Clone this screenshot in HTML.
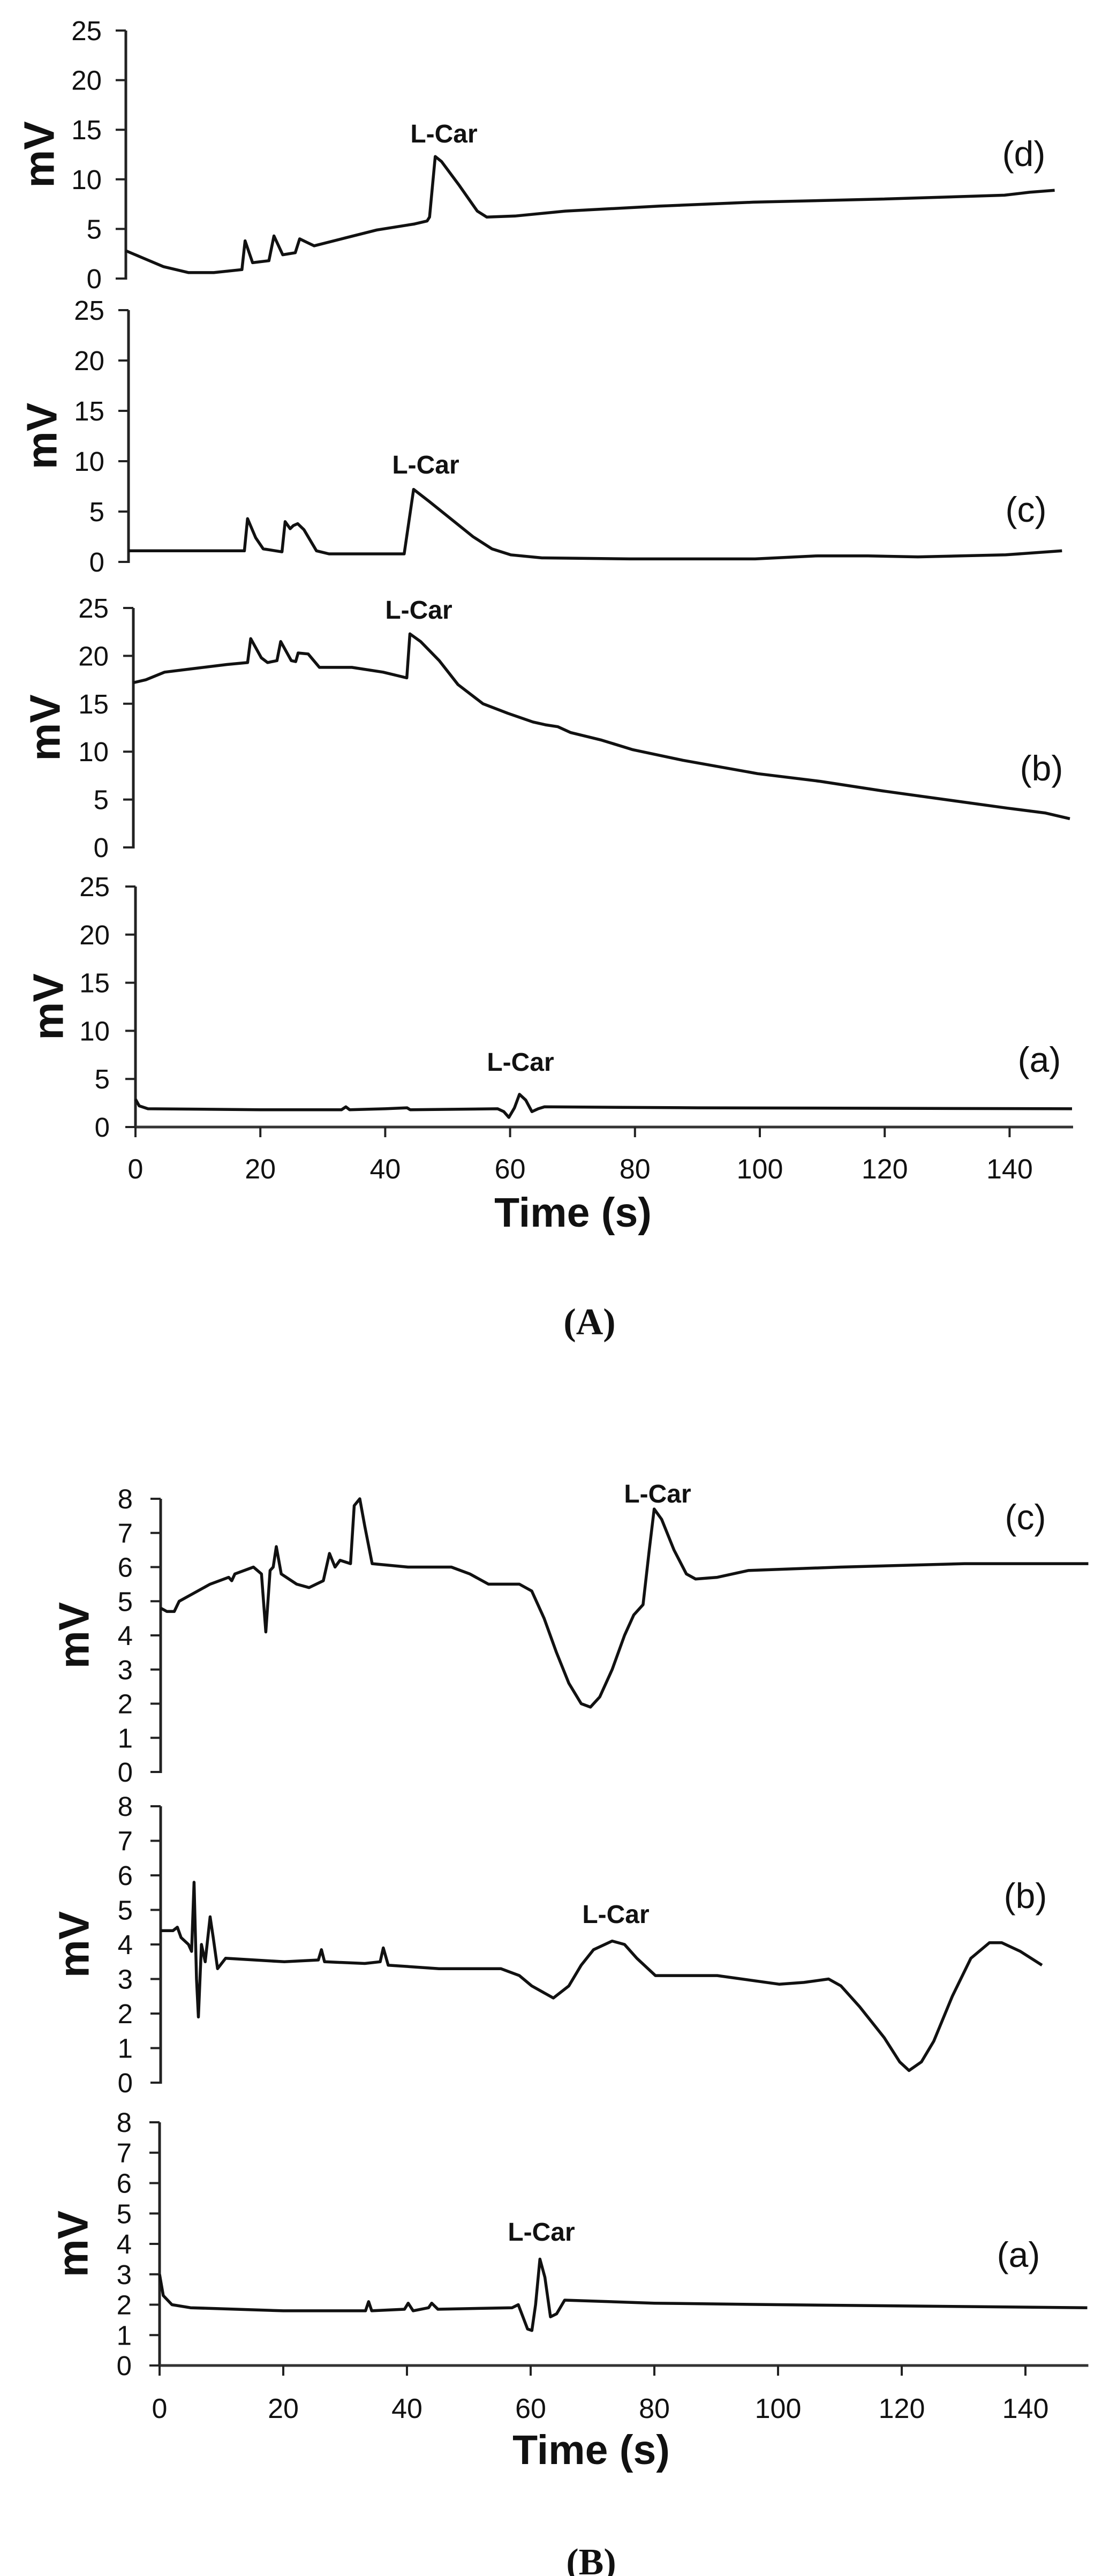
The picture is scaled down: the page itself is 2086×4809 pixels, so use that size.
<!DOCTYPE html>
<html><head><meta charset="utf-8"><style>
html,body{margin:0;padding:0;background:#fff;}
svg{display:block;}
text{font-family:"Liberation Sans",sans-serif;fill:#111;}
</style></head><body>
<svg id="s" width="2086" height="4809" viewBox="0 0 2086 4809" xmlns="http://www.w3.org/2000/svg">
<rect width="2086" height="4809" fill="#fff"/>
<g id="g"></g>
<g font-weight="bold" font-size="48" text-anchor="middle">
<text x="829" y="266">L-Car</text>
<text x="795" y="884">L-Car</text>
<text x="782" y="1155">L-Car</text>
<text x="972" y="1999">L-Car</text>
<text x="1228" y="2805">L-Car</text>
<text x="1150" y="3590">L-Car</text>
<text x="1011" y="4183">L-Car</text>
</g>
<g font-size="66" text-anchor="middle">
<text x="1912" y="310">(d)</text>
<text x="1916" y="974">(c)</text>
<text x="1945" y="1457">(b)</text>
<text x="1941" y="2001">(a)</text>
<text x="1915" y="2855">(c)</text>
<text x="1915" y="3562">(b)</text>
<text x="1902" y="4232">(a)</text>
</g>
<g font-weight="bold" font-size="77" text-anchor="middle">
<text x="1070" y="2290">Time (s)</text>
<text x="1104" y="4600">Time (s)</text>
</g>
<g font-weight="bold" font-size="70" text-anchor="middle">
<text x="1101" y="2491" style="font-family:'Liberation Serif',serif">(A)</text>
<text x="1104" y="4806" style="font-family:'Liberation Serif',serif">(B)</text>
</g>
</svg>
<script>
var g=document.getElementById('g');var NS='http://www.w3.org/2000/svg';
function el(t,a,txt){var e=document.createElementNS(NS,t);for(var k in a)e.setAttribute(k,a[k]);if(txt!==undefined)e.textContent=txt;g.appendChild(e);return e;}
function panel(ax,y0,ytop,ymax,step,labX,mvX,data,sx,xt){
  var sy=(y0-ytop)/ymax;
  el('line',{x1:ax,y1:ytop,x2:ax,y2:y0+2,stroke:'#222','stroke-width':5});
  for(var v=0;v<=ymax;v+=step){var y=y0-v*sy;
    el('line',{x1:ax-19,y1:y,x2:ax,y2:y,stroke:'#222','stroke-width':4});
    el('text',{x:labX,y:y+18,'font-size':51,'text-anchor':'end'},String(v));}
  var cy=(y0+ytop)/2;
  el('text',{x:mvX,y:cy,'font-size':80,'font-weight':'bold','text-anchor':'middle',transform:'rotate(-90 '+mvX+' '+cy+')','dominant-baseline':'central'},'mV');
  var pts=data.map(function(p){return (ax+p[0]*sx).toFixed(1)+','+(y0-p[1]*sy).toFixed(1)}).join(' ');
  el('polyline',{points:pts,fill:'none',stroke:'#111','stroke-width':5.5,'stroke-linejoin':'round'});
  if(xt){
    el('line',{x1:ax,y1:y0,x2:ax+150*sx+2,y2:y0,stroke:'#333','stroke-width':5});
    for(var t=0;t<=140;t+=20){var x=ax+t*sx;
      el('line',{x1:x,y1:y0,x2:x,y2:y0+19,stroke:'#222','stroke-width':4});
      el('text',{x:x,y:xt,'font-size':52,'text-anchor':'middle'},String(t));}
  }
}
var dA=[[0,2.8],[3,2],[6,1.2],[10,0.6],[14,0.6],[18.5,0.9],[19,3.8],[20.2,1.6],[22.8,1.8],[23.6,4.3],[25,2.4],[27,2.6],[27.7,4.0],[29,3.6],[30,3.3],[35,4.1],[40,4.9],[46,5.5],[48,5.8],[48.4,6.2],[49.3,12.3],[50.3,11.8],[53,9.5],[56,6.8],[57.5,6.2],[62,6.3],[70,6.8],[85,7.3],[100,7.7],[120,8.0],[140,8.4],[144,8.7],[148,8.9]];
var cA=[[0,1.1],[10,1.1],[18.5,1.1],[19,4.3],[20.3,2.4],[21.5,1.3],[24.5,1.0],[25,4.0],[25.8,3.3],[26.3,3.6],[27,3.8],[28,3.2],[30,1.1],[32,0.8],[44,0.8],[45.5,7.2],[48,6.0],[51,4.5],[55,2.5],[58,1.3],[61,0.7],[66,0.4],[80,0.3],[100,0.3],[110,0.6],[118,0.6],[126,0.5],[140,0.7],[149,1.1]];
var bA=[[0,17.2],[2,17.5],[5,18.3],[10,18.7],[15,19.1],[18.3,19.3],[18.8,21.8],[20.5,19.8],[21.5,19.3],[23,19.5],[23.6,21.5],[25.3,19.5],[26,19.4],[26.4,20.3],[28,20.2],[29.8,18.8],[35,18.8],[40,18.3],[43.8,17.7],[44.3,22.3],[46,21.5],[49,19.5],[52,17],[56,15],[60,14],[64,13.1],[66,12.8],[68,12.6],[70,12],[75,11.2],[80,10.2],[88,9.1],[100,7.7],[110,6.9],[120,5.9],[130,5.0],[140,4.1],[146,3.6],[150,3.0]];
var aA=[[0,2.9],[0.6,2.2],[2,1.9],[20,1.8],[33,1.8],[33.7,2.1],[34.3,1.8],[40,1.9],[43.5,2.0],[44,1.8],[58,1.9],[59,1.6],[59.8,1.0],[60.7,2.0],[61.5,3.4],[62.5,2.8],[63.5,1.6],[64.5,1.9],[65.5,2.1],[90,2.0],[150,1.9]];
panel(235,520,57,25,5,190,73,dA,11.72);
panel(240,1049,579,25,5,195,78,cA,11.7);
panel(249,1582,1135,25,5,203,84,bA,11.66);
panel(253,2104,1655,25,5,205,90,aA,11.66,2200);
var cB=[[0,4.8],[1,4.7],[2.2,4.7],[3,5.0],[5,5.2],[8,5.5],[11,5.7],[11.5,5.6],[12,5.8],[15,6.0],[16.3,5.8],[17,4.1],[17.7,5.9],[18.2,6.0],[18.7,6.6],[19.5,5.8],[22,5.5],[24,5.4],[26.3,5.6],[27.3,6.4],[28.2,6.0],[29,6.2],[30.7,6.1],[31.3,7.8],[32.2,8.0],[33,7.2],[34.2,6.1],[40,6.0],[47,6.0],[50,5.8],[53,5.5],[58,5.5],[60,5.3],[62,4.5],[64,3.5],[66,2.6],[68,2.0],[69.5,1.9],[71,2.2],[73,3.0],[75,4.0],[76.5,4.6],[78,4.9],[79,6.5],[79.8,7.7],[81,7.4],[83,6.5],[85,5.8],[86.5,5.65],[90,5.7],[95,5.9],[110,6.0],[130,6.1],[150,6.1]];
var bB=[[0,4.4],[2,4.4],[2.7,4.5],[3.3,4.2],[4.5,4.0],[5,3.8],[5.4,5.8],[5.8,3.0],[6.1,1.9],[6.6,4.0],[7.2,3.5],[8,4.8],[8.5,4.2],[9.2,3.3],[10.5,3.6],[20,3.5],[25.5,3.55],[26,3.85],[26.5,3.5],[33,3.45],[35.5,3.5],[36,3.9],[36.8,3.4],[45,3.3],[55,3.3],[58,3.1],[60,2.8],[63.5,2.45],[66,2.8],[68,3.4],[70,3.85],[73,4.1],[75,4.0],[77,3.6],[80,3.1],[90,3.1],[100,2.85],[104,2.9],[108,3.0],[110,2.8],[113,2.2],[117,1.3],[119.5,0.6],[121,0.35],[123,0.6],[125,1.2],[128,2.5],[131,3.6],[134,4.05],[136,4.05],[139,3.8],[142.5,3.4]];
var aB=[[0,3.0],[0.6,2.3],[2,2.0],[5,1.9],[20,1.8],[33.3,1.8],[33.8,2.1],[34.3,1.8],[39.6,1.85],[40.2,2.05],[41,1.8],[43.5,1.9],[44,2.05],[45,1.85],[57,1.9],[58,2.0],[59.5,1.2],[60.2,1.15],[60.8,2.0],[61.5,3.5],[62.3,2.9],[63.2,1.6],[64.2,1.7],[65.5,2.15],[80,2.05],[100,2.0],[150,1.9]];
panel(300,3308,2798,8,1,248,138,cB,11.55);
panel(300,3888,3372,8,1,248,138,bB,11.55);
panel(298,4416,3962,8,1,246,136,aB,11.55,4514);
</script>
</body></html>
